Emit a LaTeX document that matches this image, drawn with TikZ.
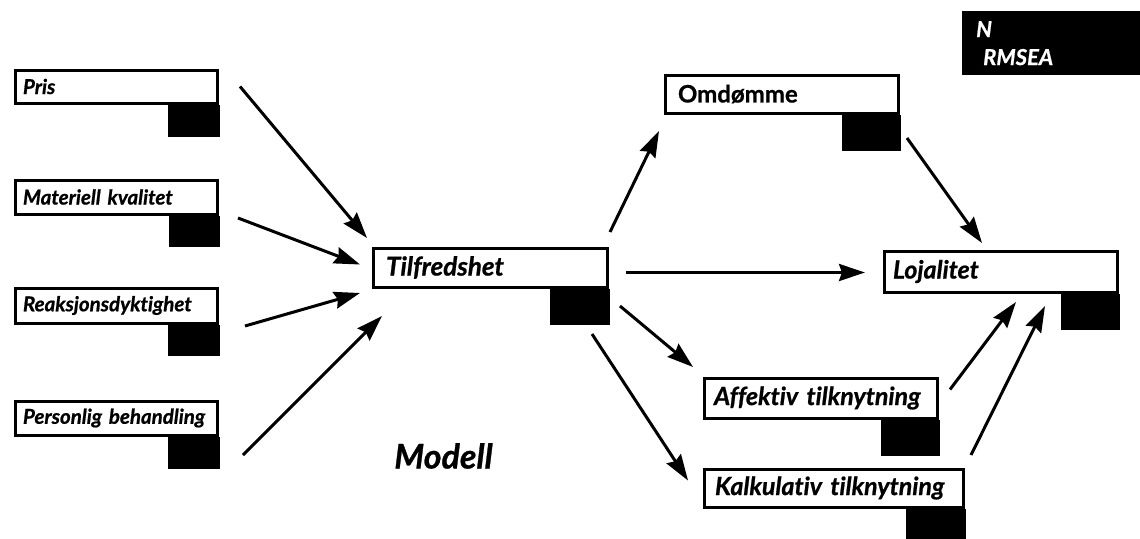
\documentclass[tikz,border=0pt]{standalone}
\usepackage{fontspec}
\setmainfont{Lato}[Ligatures=NoCommon,BoldItalicFeatures={FakeBold=0.8},BoldFeatures={FakeBold=0.8}]
\usetikzlibrary{arrows.meta,calc}
\tikzset{
  box/.style={draw, line width=3pt, anchor=north west, inner xsep=9pt, inner ysep=0pt, align=left},
  lfont/.style={font=\fontsize{20.5}{22}\selectfont\bfseries\itshape},
  rfont/.style={font=\fontsize{25}{26}\selectfont\bfseries\itshape},
  arr/.style={line width=3pt, -{Stealth[length=26pt,width=17pt,inset=3pt]}},
}
\newcommand{\blk}[3]{\fill ([xshift=1.5pt]#1.south east) rectangle ++(-#2,#3);}
\begin{document}
\begin{tikzpicture}[x=1pt,y=-1pt]
\useasboundingbox (0,0) rectangle (1140,538);
% left boxes
\node[box,lfont,inner xsep=8pt,text width=186pt,minimum height=33pt] (pris) at (13.5,68.5) {\mbox{Pris}};
\node[box,lfont,inner xsep=8pt,text width=186pt,minimum height=34pt] (mat) at (13.5,178.5) {\mbox{Materiell kvalitet}};
\node[box,lfont,inner xsep=8pt,text width=186pt,minimum height=35pt] (rea) at (13.5,286.5) {\mbox{Reaksjonsdyktighet}};
\node[box,lfont,inner xsep=8pt,text width=186pt,minimum height=34pt] (per) at (13.5,399.5) {\mbox{Personlig behandling}};
\blk{pris}{52}{32.5}
\blk{mat}{51}{31.5}
\blk{rea}{52}{31.5}
\blk{per}{52}{32.5}
% centre
\node[box,font=\fontsize{26}{28}\selectfont\bfseries\itshape,inner xsep=13pt,text width=208pt,minimum height=39pt] (tilf) at (371.5,246.5) {\mbox{Tilfredshet}};
\blk{tilf}{60}{36.5}
% right
\node[box,font=\fontsize{24}{26}\selectfont\bfseries,inner xsep=13pt,text width=207pt,minimum height=38pt] (omd) at (663.5,73.5) {\mbox{Omdømme}};
\node[box,rfont,inner xsep=9pt,text width=215pt,minimum height=41pt] (loj) at (882.5,249.5) {\mbox{Lojalitet}};
\node[box,rfont,inner xsep=10pt,text width=213pt,minimum height=40pt] (aff) at (702.5,376.5) {\mbox{Affektiv tilknytning}};
\node[box,rfont,inner xsep=11pt,text width=237pt,minimum height=38pt] (kalk) at (702.5,467.5) {\mbox{Kalkulativ tilknytning}};
\blk{omd}{59}{36.5}
\blk{loj}{59}{36.5}
\blk{aff}{59}{36.5}
\blk{kalk}{60}{40}
% fit box
\node[fill=black,anchor=north west,minimum width=178pt,minimum height=64pt,text width=164pt,inner xsep=14pt,align=left,text=white,font=\fontsize{22}{28}\selectfont\bfseries\itshape] (fit) at (962,11) {N\\\hspace*{7pt}RMSEA};
% title
\node[font=\fontsize{34}{36}\selectfont\bfseries\itshape] (modell) at (443.5,456) {Modell};
% arrows in
\draw[arr] ($(pris.east)+(21.5,0)$) -- ($(tilf.north west)+(-4.5,-8.5)$);
\draw[arr] ($(mat.south east)+(19.5,2.5)$) -- ($(tilf.west)+(-11.5,-3)$);
\draw[arr] ($(rea.south east)+(26.5,1.5)$) -- ($(tilf.south west)+(-11.5,4.5)$);
\draw[arr] ($(per.south east)+(24.5,18.5)$) -- ($(tilf.south west)+(10.5,27.5)$);
% arrows out
\draw[arr] ($(tilf.north east)+(1.5,-14.5)$) -- ($(omd.south west)+(-4.5,16.5)$);
\draw[arr] ($(tilf.east)+(17.5,5)$) -- ($(loj.west)+(-17.5,1)$);
\draw[arr] ($(omd.south east)+(7.5,23.5)$) -- ($(loj.north west)+(99.5,-6.5)$);
\draw[arr] ($(tilf.south east)+(11.5,17.5)$) -- ($(aff.north west)+(-9.5,-9.5)$);
\draw[arr] ($(tilf.south east)+(-16.5,45.5)$) -- ($(kalk.west)+(-14.5,-7.5)$);
\draw[arr] ($(aff.east)+(11.5,-8.5)$) -- ($(loj.south west)+(133.5,8.5)$);
\draw[arr] ($(kalk.north east)+(6.5,-12.5)$) -- ($(loj.south west)+(162.5,12.5)$);
\end{tikzpicture}
\end{document}
